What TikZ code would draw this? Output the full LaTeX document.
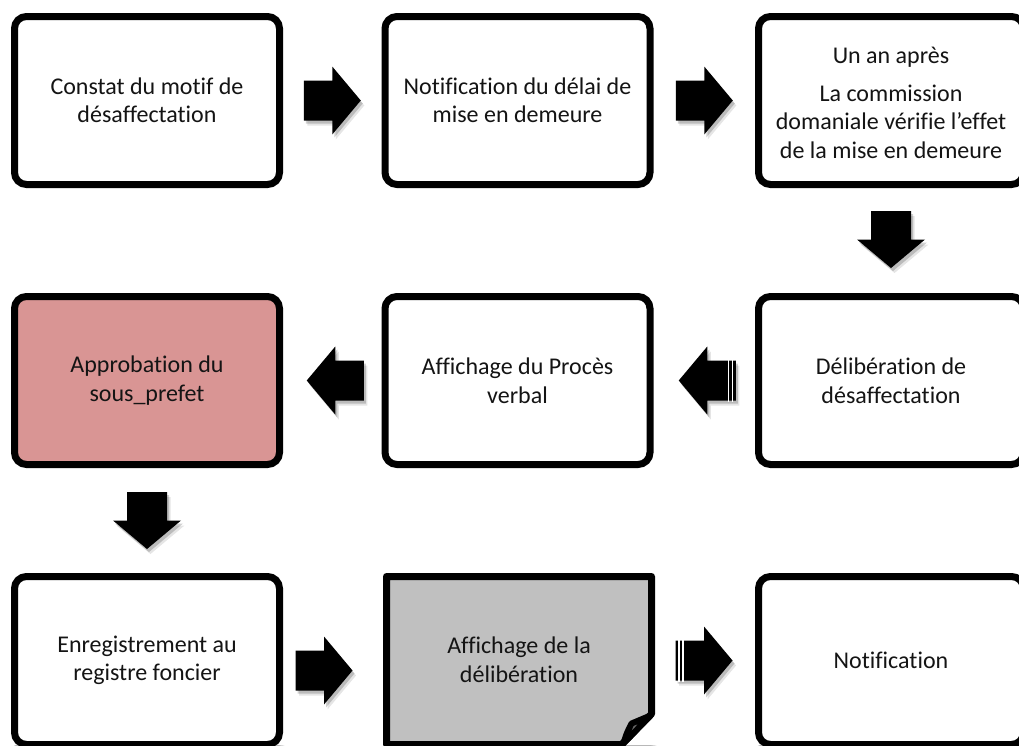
\documentclass[tikz,border=0pt]{standalone}
\usepackage{fontspec}
\setmainfont{Carlito}[Ligatures=CommonOff]
\usetikzlibrary{calc}
\definecolor{pinkfill}{HTML}{D99594}
\definecolor{grayfill}{HTML}{C0C0C0}
\pgfdeclarelayer{bg}
\pgfsetlayers{bg,main}
\tikzset{
  x=1pt, y=-1pt,
  boxfont/.style={font=\fontsize{24}{28.5}\selectfont, text=black!92, align=center},
  stepbox/.style={draw=black, line width=7pt, rounded corners=12pt, fill=white,
    minimum width=265pt, minimum height=168pt, inner sep=0pt, outer sep=0pt,
    boxfont},
  pinkbox/.style={stepbox, fill=pinkfill},
  notebox/.style={stepbox, draw=none, fill=none, rounded corners=0pt},
  arrowbody/.pic={
    \path[pic actions] (-28.5,-20) -- (0,-20) -- (0,-34) -- (28.5,0)
      -- (0,34) -- (0,20) -- (-28.5,20) -- cycle;
  },
  arrowstripes/.pic={
    \fill[white] (-26,-21) rectangle (-24.5,21);
    \fill[white] (-22,-21) rectangle (-20.5,21);
  },
}
% block arrow with a soft shadow: #1 position, #2 angle
\newcommand\blockarrow[2]{%
  \pic[rotate=#2, fill=black, opacity=.10] at ($#1+(3.5,5)$) {arrowbody};
  \pic[rotate=#2, fill=black, opacity=.18] at ($#1+(2,3)$) {arrowbody};
  \pic[rotate=#2, fill=black] at #1 {arrowbody};
}
\newcommand\stripedarrow[2]{%
  \blockarrow{#1}{#2}
  \pic[rotate=#2] at #1 {arrowstripes};
}
\begin{document}
\begin{tikzpicture}
\clip (0,0) rectangle (1019,745);
\fill[white] (0,0) rectangle (1019,745);

% row 1
\node[stepbox] (b1) at (147,100.5) {Constat du motif de\\désaffectation};
\node[stepbox] (b2) at (517.5,100.5) {Notification du délai de\\mise en demeure};
\node[stepbox] (b3) at (891,100.5) {};
\node[boxfont] (t3) at ($(b3.center)+(0,2.5)$) {Un an après\\[9pt]La commission\\domaniale vérifie l’effet\\de la mise en demeure};
% row 2
\node[stepbox] (b4) at (891,380.5) {Délibération de\\désaffectation};
\node[stepbox] (b5) at (517.5,380.5) {Affichage du Procès\\verbal};
\node[pinkbox] (b6) at (147,380.5) {Approbation du\\sous\_prefet};
% row 3
\node[stepbox] (b7) at (147,660.5) {Enregistrement au\\registre foncier};
\node[notebox] (b8) at (519,660.5) {};
\node[stepbox] (b9) at (891,660.5) {Notification};

% sheet with folded corner
\draw[line width=7pt, fill=grayfill, line join=round]
  (b8.north west) -- (b8.north east) -- ($(b8.south east)+(0,-30.5)$)
  -- ($(b8.south east)+(-30,0)$) -- (b8.south west) -- cycle;
\filldraw[fill=grayfill!55!black, line width=6pt, line join=round]
  ($(b8.south east)+(-28,-1)$) .. controls ($(b8.south east)+(-25,-11)$) ..
  ($(b8.south east)+(-20,-21)$) .. controls ($(b8.south east)+(-11,-25)$) ..
  ($(b8.south east)+(-1,-29)$) -- cycle;
\node[boxfont] (t8) at ($(b8.center)+(0,-1)$) {Affichage de la\\délibération};

% soft shadows under the boxes
\begin{pgfonlayer}{bg}
\foreach \n in {b1,b2,b3,b4,b5,b6,b7,b8,b9}{
  \foreach \k in {1,2,3,4}{
    \fill[black, opacity=.08, rounded corners=14pt]
      ($(\n.north west)+(-3.5+0.5*\k,-3.5+\k)$) rectangle
      ($(\n.south east)+(3.5+0.6*\k,3.5+1.5*\k)$);
  }
}
\end{pgfonlayer}

% connectors
\blockarrow{($(b1.east)!.5!(b2.west)$)}{0}
\blockarrow{($(b2.east)!.5!(b3.west)$)}{0}
\blockarrow{($(b3.south)!.5!(b4.north)+(0,-1)$)}{-90}
\stripedarrow{($(b4.west)!.5!(b5.east)+(3,0)$)}{180}
\blockarrow{($(b5.west)!.5!(b6.east)+(3,0)$)}{180}
\blockarrow{($(b6.south)!.5!(b7.north)$)}{-90}
\blockarrow{($(b7.east)!.5!(b8.west)+(-9,10)$)}{0}
\stripedarrow{($(b8.east)!.5!(b9.west)+(-1,0)$)}{0}
\end{tikzpicture}
\end{document}
